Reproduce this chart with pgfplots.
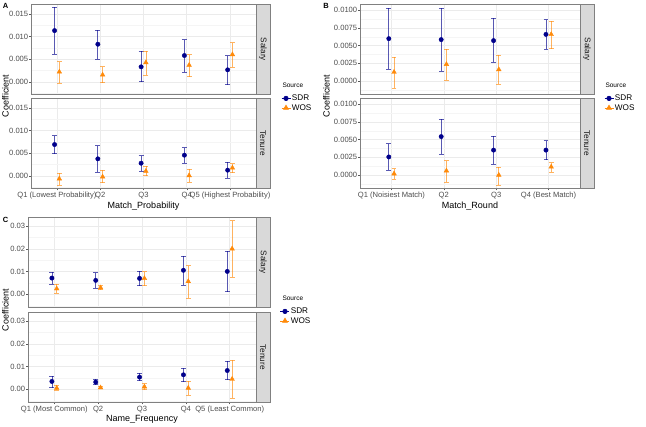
\documentclass[border=0pt]{standalone}
\usepackage{fontspec}
\setmainfont{Liberation Sans}
\usepackage{pgfplots}
\usepackage{pgfplotstable}
\pgfplotsset{compat=1.18}

\definecolor{sdr}{HTML}{00008B}
\definecolor{wos}{HTML}{FF8A0A}
\definecolor{gridmaj}{HTML}{EBEBEB}
\definecolor{gridmin}{HTML}{F5F5F5}
\definecolor{bordercol}{HTML}{808080}
\definecolor{stripfill}{HTML}{D9D9D9}
\definecolor{tickcol}{HTML}{4D4D4D}

% c = category, s = SDR (y, low, high), w = WOS (y, low, high)
\pgfplotstableread{
c sy slo shi wy wlo whi
1 0.01132 0.00618 0.01647 0.0022 -0.0003 0.00449
2 0.00831 0.00507 0.01147 0.00154 -0.0002 0.00331
3 0.00331 0.0000 0.00684 0.00426 0.00154 0.00676
4 0.00581 0.0022 0.00934 0.00368 0.0011 0.00603
5 0.00265 -0.00066 0.00581 0.00603 0.00324 0.00868
}\ASal
\pgfplotstableread{
c sy slo shi wy wlo whi
1 0.00691 0.00493 0.0089 -0.00066 -0.00206 0.00059
2 0.00375 0.00081 0.00669 -0.00022 -0.00154 0.00125
3 0.00279 0.00103 0.00449 0.00103 0.0 0.00206
4 0.00456 0.00279 0.00625 0.00007 -0.0014 0.00147
5 0.00125 -0.0005 0.00301 0.00176 0.00066 0.00272
}\ATen
\pgfplotstableread{
c sy slo shi wy wlo whi
1 0.0060 0.00167 0.01033 0.00126 -0.00098 0.0034
2 0.00586 0.00144 0.01033 0.00237 0.00014 0.00447
3 0.00572 0.00265 0.00888 0.00163 -0.00042 0.00367
4 0.0066 0.00447 0.0087 0.0066 0.00456 0.00847
}\BSal
\pgfplotstableread{
c sy slo shi wy wlo whi
1 0.00256 0.0007 0.00442 0.00019 -0.0006 0.00088
2 0.00544 0.00298 0.0079 0.0006 -0.00098 0.00205
3 0.00353 0.00153 0.00549 0.0 -0.0014 0.00116
4 0.00353 0.00219 0.00488 0.00116 0.00042 0.00177
}\BTen
\pgfplotstableread{
c sy slo shi wy wlo whi
1 0.00717 0.00439 0.0098 0.00249 0.00059 0.00454
2 0.00615 0.00278 0.0095 0.00293 0.00205 0.0041
3 0.00703 0.00381 0.01025 0.00703 0.00381 0.00995
4 0.0106 0.0040 0.0167 0.0057 -0.0016 0.0126
5 0.0101 0.0011 0.0190 0.0201 0.0077 0.0325
}\CSal
\pgfplotstableread{
c sy slo shi wy wlo whi
1 0.00349 0.00073 0.00582 0.00058 -0.00044 0.00189
2 0.0032 0.00204 0.00437 0.00073 0.00029 0.00131
3 0.00539 0.00378 0.00713 0.00116 -0.00015 0.00247
4 0.0064 0.00335 0.00932 0.00058 -0.00247 0.00364
5 0.0083 0.00422 0.01237 0.00451 -0.00393 0.0128
}\CTen

\pgfplotsset{
  base/.style={
    scale only axis,
    axis line style={draw=bordercol, line width=0.6pt},
    tick align=outside, tick pos=left,
    major tick length=1.8pt, minor tick length=0pt,
    tick style={draw=gray!70!black, line width=0.5pt},
    xmajorgrids, ymajorgrids, yminorgrids,
    major grid style={draw=gridmaj, line width=0.6pt},
    minor grid style={draw=gridmin, line width=0.35pt},
    ticklabel style={font=\fontsize{7.6}{8.5}\selectfont, text=tickcol},
    yticklabel style={inner sep=0.8pt},
    xticklabel style={inner sep=1pt, yshift=-0.5pt},
    scaled y ticks=false,
    /pgf/number format/assume math mode=true,
    legend style={draw=none, fill=none, font=\fontsize{8.2}{9.5}\selectfont,
      anchor=north west, inner sep=0pt, row sep=0.3pt,
      nodes={inner sep=1pt}},
    legend cell align=left,
  },
  sdrstyle/.style={forget plot, only marks, mark=*, mark size=2.2pt, color=sdr,
    error bars/.cd, y dir=both, y explicit,
    error bar style={line width=0.7pt, draw opacity=0.65},
    error mark options={rotate=90, mark size=2.4pt, line width=0.7pt, draw opacity=0.65}},
  wosstyle/.style={forget plot, only marks, mark=triangle*, mark size=2.7pt, color=wos,
    error bars/.cd, y dir=both, y explicit,
    error bar style={line width=0.7pt, draw opacity=0.65},
    error mark options={rotate=90, mark size=2.4pt, line width=0.7pt, draw opacity=0.65}},
  legkey/.style={legend image code/.code={\draw[##1, mark repeat=2, mark phase=2] plot coordinates {(0pt,0pt)(4.5pt,0pt)(9pt,0pt)};}},
}

\newcommand{\pairplot}[2]{%
  \addplot[sdrstyle] table[x expr=\thisrow{c}-#2, y=sy,
    y error plus expr=\thisrow{shi}-\thisrow{sy},
    y error minus expr=\thisrow{sy}-\thisrow{slo}] {#1};
  \addplot[wosstyle] table[x expr=\thisrow{c}+#2, y=wy,
    y error plus expr=\thisrow{whi}-\thisrow{wy},
    y error minus expr=\thisrow{wy}-\thisrow{wlo}] {#1};
}
\newcommand{\legendpair}{%
  \addlegendimage{sdr, mark=*, mark size=2.2pt, line width=0.7pt, legkey}
  \addlegendentry{SDR}
  \addlegendimage{wos, mark=triangle*, mark size=2.7pt, line width=0.7pt, legkey}
  \addlegendentry{WOS}
}
\newcommand{\strip}[4]{% x0, ybottom, ytop, text
  \filldraw[fill=stripfill, draw=bordercol, line width=0.6pt] (#1,#2) rectangle (#1+14,#3);
  \node[rotate=-90, font=\fontsize{8.2}{9}\selectfont, text=black!90] at (#1+7,{(#2+#3)/2}) {#4};
}

\begin{document}
\begin{tikzpicture}[x=1pt,y=1pt]
\useasboundingbox (0,0) rectangle (646,427);

% ---------------- Panel A ----------------
\begin{axis}[base, at={(31pt,332.5pt)}, width=225pt, height=90.5pt,
  xmin=0.4, xmax=5.6, xtick={1,2,3,4,5}, xticklabels={}, xtick style={draw=none},
  ymin=-0.0028, ymax=0.0172, ytick={0,0.005,0.01,0.015},
  yticklabels={0.000,0.005,0.010,0.015}, minor ytick={-0.0025,0.0025,0.0075,0.0125},
  legend style={at={(axis description cs:1.111,0.01)}}]
  \legendpair
  \pairplot{\ASal}{0.055}
\end{axis}
\begin{axis}[base, at={(31pt,238.5pt)}, width=225pt, height=90.5pt,
  xmin=0.4, xmax=5.6, xtick={1,2,3,4,5},
  xticklabels={Q1 (Lowest Probability),Q2,Q3,Q4,Q5 (Highest Probability)},
  ymin=-0.0028, ymax=0.0172, ytick={0,0.005,0.01,0.015},
  yticklabels={0.000,0.005,0.010,0.015}, minor ytick={-0.0025,0.0025,0.0075,0.0125}]
  \pairplot{\ATen}{0.055}
\end{axis}
\strip{256}{332.5}{423}{Salary}
\strip{256}{238.5}{329}{Tenure}
\node[font=\fontsize{9}{10}\selectfont] at (143.5,221) {Match\_Probability};
\node[rotate=90, font=\fontsize{9}{10}\selectfont] at (5.5,331) {Coefficient};
\node[font=\bfseries\fontsize{7.5}{8}\selectfont] at (5.5,421) {A};
\node[anchor=west, font=\fontsize{6.5}{7}\selectfont] at (279,342) {Source};

% ---------------- Panel B ----------------
\begin{axis}[base, at={(360pt,332.5pt)}, width=220pt, height=90.5pt,
  xmin=0.4, xmax=4.6, xtick={1,2,3,4}, xticklabels={}, xtick style={draw=none},
  ymin=-0.0019, ymax=0.0109, ytick={0,0.0025,0.005,0.0075,0.01},
  yticklabels={0.0000,0.0025,0.0050,0.0075,0.0100},
  minor ytick={-0.00125,0.00125,0.00375,0.00625,0.00875},
  legend style={at={(axis description cs:1.109,0.01)}}]
  \legendpair
  \pairplot{\BSal}{0.05}
\end{axis}
\begin{axis}[base, at={(360pt,238.5pt)}, width=220pt, height=90.5pt,
  xmin=0.4, xmax=4.6, xtick={1,2,3,4},
  xticklabels={Q1 (Noisiest Match),Q2,Q3,Q4 (Best Match)},
  ymin=-0.0019, ymax=0.0109, ytick={0,0.0025,0.005,0.0075,0.01},
  yticklabels={0.0000,0.0025,0.0050,0.0075,0.0100},
  minor ytick={-0.00125,0.00125,0.00375,0.00625,0.00875}]
  \pairplot{\BTen}{0.05}
\end{axis}
\strip{580}{332.5}{423}{Salary}
\strip{580}{238.5}{329}{Tenure}
\node[font=\fontsize{9}{10}\selectfont] at (470,221) {Match\_Round};
\node[rotate=90, font=\fontsize{9}{10}\selectfont] at (326.5,331) {Coefficient};
\node[font=\bfseries\fontsize{7.5}{8}\selectfont] at (326,421) {B};
\node[anchor=west, font=\fontsize{6.5}{7}\selectfont] at (602,342) {Source};

% ---------------- Panel C ----------------
\begin{axis}[base, at={(28pt,119.5pt)}, width=228pt, height=90.5pt,
  xmin=0.4, xmax=5.6, xtick={1,2,3,4,5}, xticklabels={}, xtick style={draw=none},
  ymin=-0.0058, ymax=0.0341, ytick={0,0.01,0.02,0.03},
  yticklabels={0.00,0.01,0.02,0.03}, minor ytick={-0.005,0.005,0.015,0.025},
  legend style={at={(axis description cs:1.105,0.01)}}]
  \legendpair
  \pairplot{\CSal}{0.055}
\end{axis}
\begin{axis}[base, at={(28pt,24.5pt)}, width=228pt, height=90.5pt,
  xmin=0.4, xmax=5.6, xtick={1,2,3,4,5},
  xticklabels={Q1 (Most Common),Q2,Q3,Q4,Q5 (Least Common)},
  ymin=-0.0058, ymax=0.0341, ytick={0,0.01,0.02,0.03},
  yticklabels={0.00,0.01,0.02,0.03}, minor ytick={-0.005,0.005,0.015,0.025}]
  \pairplot{\CTen}{0.055}
\end{axis}
\strip{256}{119.5}{210}{Salary}
\strip{256}{24.5}{115}{Tenure}
\node[font=\fontsize{9}{10}\selectfont] at (142,8) {Name\_Frequency};
\node[rotate=90, font=\fontsize{9}{10}\selectfont] at (5.5,117) {Coefficient};
\node[font=\bfseries\fontsize{7.5}{8}\selectfont] at (5.5,207) {C};
\node[anchor=west, font=\fontsize{6.5}{7}\selectfont] at (279,129) {Source};
\end{tikzpicture}
\end{document}
